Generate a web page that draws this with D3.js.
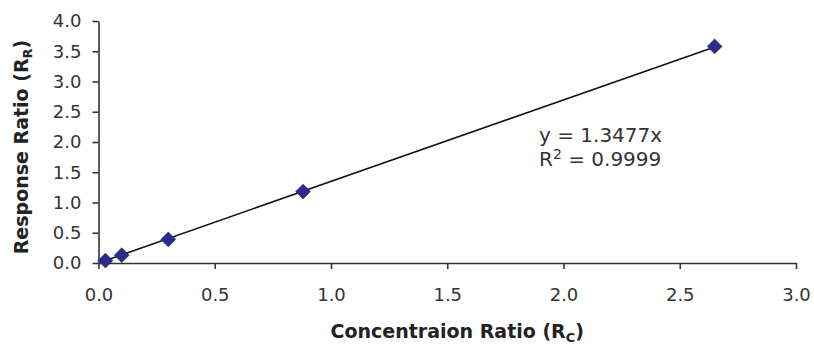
<!DOCTYPE html>
<html>
<head>
<meta charset="utf-8">
<script src="https://cdn.jsdelivr.net/npm/d3@7"></script>
<style>
  body { margin: 0; background: #fff; }
  .axis text { font-family: "DejaVu Sans", Verdana, sans-serif; font-size: 18px; fill: #333; }
  .axis path, .axis line { stroke: #333; stroke-width: 1.6; }
</style>
</head>
<body>
<div id="chart"></div>
<script>
// data
const concRatio = [0.03, 0.1, 0.3, 0.88, 2.65];
const respRatio = [0.04, 0.13, 0.39, 1.18, 3.58];
const slope = 1.3477;
const rSquared = "0.9999";
const xTicks = [0, 0.5, 1, 1.5, 2, 2.5, 3];
const yTicks = [0, 0.5, 1, 1.5, 2, 2.5, 3, 3.5, 4];

function draw() {
  const dimensions = {
    width: 814,
    height: 347,
    margin: { top: 21, bottom: 84, left: 98.5, right: 18 },
    dotSize: 10.5,
  };
  const containerWidth = dimensions.width - dimensions.margin.left - dimensions.margin.right;
  const containerHeight = dimensions.height - dimensions.margin.top - dimensions.margin.bottom;

  const dataset = concRatio.map((c, i) => ({ x: c, y: respRatio[i] }));

  const svg = d3.select("#chart")
    .append("svg")
    .attr("width", dimensions.width)
    .attr("height", dimensions.height)
    .style("font-family", '"DejaVu Sans", Verdana, sans-serif');

  const ctr = svg.append("g")
    .attr("transform", `translate(${dimensions.margin.left}, ${dimensions.margin.top})`);

  const xScale = d3.scaleLinear().domain([0, 3]).range([0, containerWidth]);
  const yScale = d3.scaleLinear().domain([0, 4]).range([containerHeight, 0]);

  // axes
  const xAxis = d3.axisBottom(xScale).tickValues(xTicks).tickFormat(d3.format(".1f"))
    .tickSize(6).tickPadding(19).tickSizeOuter(0);
  const yAxis = d3.axisLeft(yScale).tickValues(yTicks).tickFormat(d3.format(".1f"))
    .tickSize(6).tickPadding(11).tickSizeOuter(0);

  ctr.append("g").attr("class", "axis")
    .attr("transform", `translate(0, ${containerHeight})`)
    .call(xAxis);
  ctr.append("g").attr("class", "axis").call(yAxis);

  // trendline y = slope * x over the data range
  const xExt = d3.extent(concRatio);
  ctr.append("line")
    .attr("x1", xScale(xExt[0])).attr("y1", yScale(slope * xExt[0]))
    .attr("x2", xScale(xExt[1])).attr("y2", yScale(slope * xExt[1]))
    .attr("stroke", "#111").attr("stroke-width", 1.6);

  // diamond markers
  ctr.selectAll("path.pt")
    .data(dataset)
    .join("path")
    .attr("class", "pt")
    .attr("d", d3.symbol(d3.symbolSquare, dimensions.dotSize * dimensions.dotSize))
    .attr("transform", d => `translate(${xScale(d.x)}, ${yScale(d.y)}) rotate(45)`)
    .attr("fill", "#2b2b8a")
    .attr("stroke", "#23236e")
    .attr("stroke-width", 0.6);

  // equation text
  const eq = svg.append("text")
    .attr("x", 539).attr("y", 142)
    .attr("font-size", 20).attr("fill", "#333");
  eq.append("tspan").text(`y = ${slope}x`);
  const r2 = svg.append("text")
    .attr("x", 539).attr("y", 166)
    .attr("font-size", 20).attr("fill", "#333");
  r2.append("tspan").text("R");
  r2.append("tspan").attr("font-size", 14).attr("dy", -7).text("2");
  r2.append("tspan").attr("dy", 7).text(` = ${rSquared}`);

  // axis titles
  const xTitle = svg.append("text")
    .attr("x", dimensions.margin.left + containerWidth / 2 + 10)
    .attr("y", 338)
    .attr("text-anchor", "middle")
    .attr("font-size", 19).attr("font-weight", "bold").attr("fill", "#222");
  xTitle.append("tspan").text("Concentraion Ratio (R");
  xTitle.append("tspan").attr("font-size", 13).attr("dy", 4).text("C");
  xTitle.append("tspan").attr("dy", -4).text(")");

  const yTitle = svg.append("text")
    .attr("transform", `translate(28, 147) rotate(-90)`)
    .attr("text-anchor", "middle")
    .attr("font-size", 19).attr("font-weight", "bold").attr("fill", "#222");
  yTitle.append("tspan").text("Response Ratio (R");
  yTitle.append("tspan").attr("font-size", 13).attr("dy", 4).text("R");
  yTitle.append("tspan").attr("dy", -4).text(")");
}

draw();
</script>
</body>
</html>
